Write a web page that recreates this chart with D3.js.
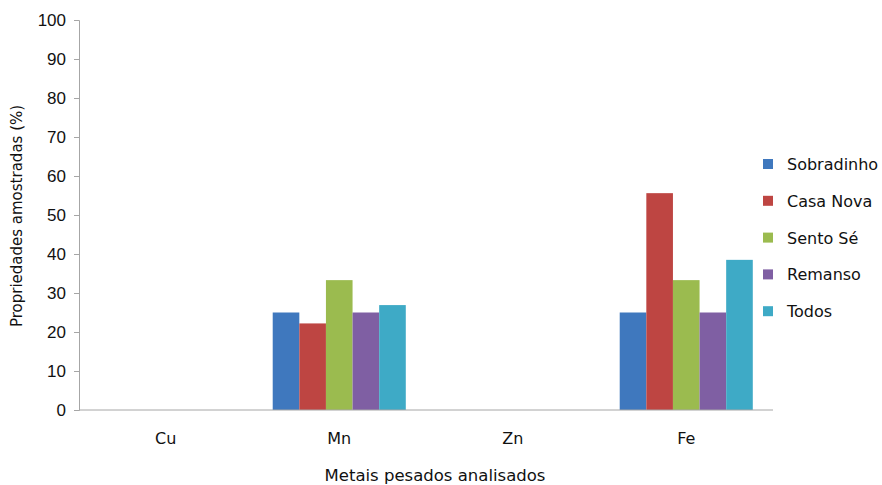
<!DOCTYPE html>
<html><head><meta charset="utf-8">
<script src="https://cdn.jsdelivr.net/npm/d3@7"></script>
<style>body{margin:0;background:#fff}svg{display:block;font-family:"DejaVu Sans",sans-serif}</style>
</head><body><svg id="c" width="882" height="485"></svg>
<script>
const categories = ["Cu","Mn","Zn","Fe"];
const seriesNames = ["Sobradinho","Casa Nova","Sento Sé","Remanso","Todos"];
const sobradinho = [0,25,0,25];
const casaNova = [0,22.2,0,55.6];
const sentoSe = [0,33.3,0,33.3];
const remanso = [0,25,0,25];
const todos = [0,26.9,0,38.5];
const yTicks = [0,10,20,30,40,50,60,70,80,90,100];
const colors = ["#3F78BE","#BE4542","#9BBB4F","#7F5FA3","#3EAAC6"];
const seriesValues = [sobradinho,casaNova,sentoSe,remanso,todos];

const svg = d3.select("#c");
const m = {l:79, r:109, t:20, b:75};
const W = 882, H = 485;
const x = d3.scaleBand().domain(categories).range([m.l, W-m.r]).paddingInner(0.233).paddingOuter(0.1165);
const xs = d3.scaleBand().domain(seriesNames).range([0, x.bandwidth()]);
const y = d3.scaleLinear().domain([0,100]).range([H-m.b, m.t]);

const g = svg.append("g");
categories.forEach((c,i)=>{
  seriesNames.forEach((s,j)=>{
    const v = seriesValues[j][i];
    if (v>0) g.append("rect").attr("x", x(c)+xs(s)).attr("width", xs.bandwidth())
      .attr("y", y(v)).attr("height", y(0)-y(v)).attr("fill", colors[j]);
  });
});

const ya = svg.append("g").attr("transform",`translate(${m.l},0)`)
  .call(d3.axisLeft(y).tickValues(yTicks).tickSize(5).tickPadding(8));
ya.select(".domain").attr("stroke","#a6a6a6");
ya.selectAll(".tick line").attr("stroke","#a6a6a6");
ya.selectAll("text").attr("font-size",17).attr("fill","#111");

svg.append("line").attr("x1",m.l).attr("x2",W-m.r).attr("y1",y(0)).attr("y2",y(0)).attr("stroke","#a6a6a6");

svg.append("g").selectAll("text").data(categories).join("text")
  .attr("x", d=>x(d)+x.bandwidth()/2).attr("y", 444).attr("text-anchor","middle")
  .attr("font-size",16).attr("fill","#111").text(d=>d);

svg.append("text").attr("x",435).attr("y",481).attr("text-anchor","middle")
  .attr("font-size",16.5).attr("fill","#111").text("Metais pesados analisados");
svg.append("text").attr("transform","translate(22,216) rotate(-90)").attr("text-anchor","middle")
  .attr("font-size",15).attr("fill","#111").text("Propriedades amostradas (%)");

const lg = svg.append("g");
seriesNames.forEach((s,j)=>{
  const cy = 164 + j*36.8;
  lg.append("rect").attr("x",763).attr("y",cy-5).attr("width",10).attr("height",10).attr("fill",colors[j]);
  lg.append("text").attr("x",787).attr("y",cy+6).attr("font-size",16).attr("fill","#111").text(s);
});
</script></body></html>
